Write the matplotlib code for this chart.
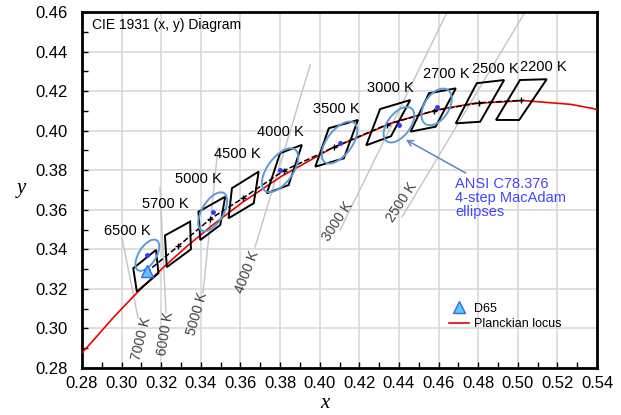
import numpy as np
import matplotlib.pyplot as plt
from matplotlib.patches import Ellipse, Polygon
from matplotlib.lines import Line2D

plt.rcParams['font.family'] = ['Liberation Sans', 'DejaVu Sans']

# ANSI C78.377 quadrangles, corners TL, TR, BR, BL
quad_names = ["6500 K", "5700 K", "5000 K", "4500 K", "4000 K",
              "3500 K", "3000 K", "2700 K", "2500 K", "2200 K"]
quad_x = [[0.3059, 0.3174, 0.3186, 0.3077],
          [0.3219, 0.3346, 0.3350, 0.3228],
          [0.3388, 0.3523, 0.3498, 0.3397],
          [0.3557, 0.3692, 0.3667, 0.3540],
          [0.3800, 0.3910, 0.3843, 0.3733],
          [0.4046, 0.4193, 0.4122, 0.3978],
          [0.4305, 0.4457, 0.4360, 0.4235],
          [0.4552, 0.4687, 0.4585, 0.4459],
          [0.4793, 0.4931, 0.4810, 0.4687],
          [0.5011, 0.5146, 0.5007, 0.4890]]
quad_y = [[0.3304, 0.3397, 0.3279, 0.3186],
          [0.3470, 0.3540, 0.3400, 0.3310],
          [0.3590, 0.3666, 0.3523, 0.3447],
          [0.3709, 0.3793, 0.3633, 0.3557],
          [0.3886, 0.3928, 0.3725, 0.3683],
          [0.4012, 0.4054, 0.3860, 0.3818],
          [0.4109, 0.4155, 0.3972, 0.3926],
          [0.4189, 0.4214, 0.4020, 0.3995],
          [0.4240, 0.4256, 0.4045, 0.4037],
          [0.4256, 0.4260, 0.4054, 0.4054]]
label_x = [0.3030, 0.3219, 0.3388, 0.3583, 0.3800, 0.4085, 0.4356, 0.4638, 0.4886, 0.5128]
label_y = [0.3493, 0.3629, 0.3756, 0.3882, 0.3993, 0.4112, 0.4216, 0.4287, 0.4312, 0.4324]
center_x = [0.3123, 0.3287, 0.3447, 0.3611, 0.3818, 0.4073, 0.4338, 0.4578, 0.4806, 0.5018]
center_y = [0.3282, 0.3417, 0.3553, 0.3658, 0.3797, 0.3917, 0.4030, 0.4101, 0.4141, 0.4153]

# ANSI C78.376 4-step MacAdam ellipses
ell_x = [0.313, 0.346, 0.380, 0.410, 0.440, 0.459]
ell_y = [0.337, 0.359, 0.380, 0.394, 0.403, 0.412]
ell_a = [0.0089, 0.0110, 0.0129, 0.0124, 0.0104, 0.0103]
ell_b = [0.0044, 0.0054, 0.0064, 0.0063, 0.0057, 0.0062]
ell_ang = [58, 59, 54, 53, 53, 57]

# Planckian locus
planck_x = [0.2750, 0.2807, 0.2868, 0.2952, 0.3004, 0.3064, 0.3135, 0.3221, 0.3325,
            0.3451, 0.3608, 0.3805, 0.4053, 0.4369, 0.4599, 0.4770, 0.5030, 0.5267,
            0.5379, 0.5497]
planck_y = [0.2830, 0.2884, 0.2952, 0.3048, 0.3103, 0.3166, 0.3237, 0.3318, 0.3411,
            0.3516, 0.3636, 0.3768, 0.3907, 0.4041, 0.4106, 0.4137, 0.4152, 0.4133,
            0.4112, 0.4081]

# isotemperature lines
iso_names = ["7000 K", "6000 K", "5000 K", "4000 K", "3000 K", "2500 K"]
iso_x0 = [0.3083, 0.3224, 0.3411, 0.3674, 0.4103, 0.4416]
iso_y0 = [0.3053, 0.3078, 0.3180, 0.3412, 0.3498, 0.3564]
iso_x1 = [0.3002, 0.3194, 0.3487, 0.3952, 0.4644, 0.5037]
iso_y1 = [0.3457, 0.3710, 0.3917, 0.4332, 0.4600, 0.4600]
iso_lx = [0.3101, 0.3224, 0.3382, 0.3635, 0.4090, 0.4415]
iso_ly = [0.2950, 0.2972, 0.3077, 0.3287, 0.3540, 0.3636]
iso_rot = [76, 81, 74, 69, 57, 57]

d65_x, d65_y = 0.3127, 0.3290

fig = plt.figure(figsize=(6.21, 4.15), dpi=100)
ax = fig.add_axes([0.132, 0.1133, 0.8294, 0.8578])

for i in range(len(iso_names)):
    ax.plot([iso_x0[i], iso_x1[i]], [iso_y0[i], iso_y1[i]], color='#c4c4c4', lw=1, zorder=2)
    ax.text(iso_lx[i], iso_ly[i], iso_names[i], rotation=iso_rot[i], color='#404040',
            fontsize=10, ha='center', va='center', rotation_mode='anchor', zorder=3)

ax.plot(planck_x, planck_y, color='#ee0000', lw=1.2, zorder=4)

for i in range(len(quad_names)):
    ax.add_patch(Polygon(list(zip(quad_x[i], quad_y[i])), closed=True, fill=False,
                         edgecolor='black', lw=1.4, zorder=5))
    ax.text(label_x[i], label_y[i], quad_names[i], fontsize=10.5, ha='center', va='center', zorder=6)

ax.plot(center_x, center_y, color='black', ls='--', lw=1.1, marker='+', ms=4, mew=1, zorder=6)

for i in range(len(ell_x)):
    ax.add_patch(Ellipse((ell_x[i], ell_y[i]), 2 * ell_a[i], 2 * ell_b[i], angle=ell_ang[i],
                         fill=False, edgecolor='#5b9bd5', lw=1.4, zorder=7))
ax.plot(ell_x, ell_y, 'o', color='#3333ff', ms=2.5, zorder=8)

ax.plot(d65_x, d65_y, '^', ms=9, mfc='#5cc8f5', mec='#3366ff', mew=1, zorder=9)

ax.annotate("ANSI C78.376\n4-step MacAdam\nellipses", xy=(0.4423, 0.3961), xytext=(0.4684, 0.3765),
            ha='left', va='top', color='#4444ff', fontsize=10.5, linespacing=1.0,
            arrowprops=dict(arrowstyle='->', color='#5a86c0', lw=1.1), zorder=10)

ax.text(0.019, 0.963, "CIE 1931 (x, y) Diagram", transform=ax.transAxes, fontsize=10,
        ha='left', va='center')

handles = [Line2D([], [], ls='none', marker='^', ms=8, mfc='#5cc8f5', mec='#3366ff'),
           Line2D([], [], color='#ee0000', lw=1.2)]
ax.legend(handles, ["D65", "Planckian locus"], loc='upper left', bbox_to_anchor=(0.69, 0.215),
          frameon=False, fontsize=9, handlelength=1.6, handletextpad=0.4, labelspacing=0.3)

ax.set_xlim(0.28, 0.54)
ax.set_ylim(0.28, 0.46)
ax.set_xticks(np.arange(0.28, 0.5401, 0.02))
ax.set_yticks(np.arange(0.28, 0.4601, 0.02))
ax.set_xticks(np.arange(0.29, 0.54, 0.02), minor=True)
ax.set_yticks(np.arange(0.29, 0.46, 0.02), minor=True)
ax.set_xticklabels(["%.2f" % v for v in np.arange(0.28, 0.5401, 0.02)])
ax.set_yticklabels(["%.2f" % v for v in np.arange(0.28, 0.4601, 0.02)])
ax.tick_params(which='both', direction='in', length=4, width=1, labelsize=12)
ax.tick_params(axis='x', pad=6)
ax.tick_params(axis='y', pad=10)
ax.grid(True, color='#d9d9d9', lw=1.2, zorder=0)
ax.set_axisbelow(True)
for s in ax.spines.values():
    s.set_linewidth(2)

fig.text(0.523, 0.028, "x", family='Liberation Serif', style='italic', fontsize=15, ha='center', va='center')
fig.text(0.034, 0.545, "y", family='Liberation Serif', style='italic', fontsize=15, ha='center', va='center')

plt.savefig("out.png", dpi=100)
